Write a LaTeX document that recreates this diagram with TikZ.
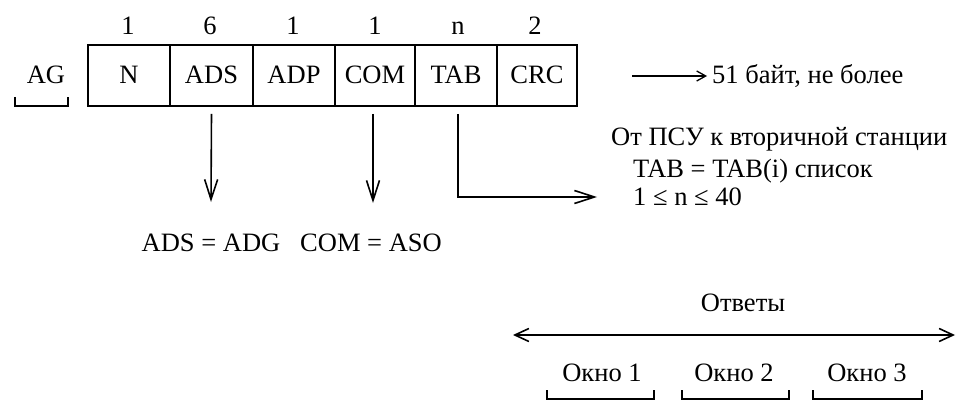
\documentclass[tikz,border=0pt]{standalone}
\usepackage{fontspec}
\setmainfont{Liberation Serif}
\usetikzlibrary{arrows.meta}
\begin{document}
\begin{tikzpicture}[x=1pt,y=-1pt,
  every node/.style={font=\fontsize{26.5}{30}\selectfont, inner sep=0pt},
  cell/.style={draw, line width=1.6pt, minimum height=61pt, text height=17pt, text depth=0pt, anchor=center},
  num/.style={anchor=base},
  conn/.style={line width=1.6pt},
  arrbig/.style={conn, -{Straight Barb[length=20pt,width=13pt,line width=1.6pt]}},
  arrsmall/.style={conn, -{Straight Barb[length=9pt,width=10pt,line width=1.3pt]}},
  arrdbl/.style={conn, {Straight Barb[length=14pt,width=13pt,line width=1.6pt]}-{Straight Barb[length=14pt,width=13pt,line width=1.6pt]}},
  brk/.style={line width=1.5pt}]
\useasboundingbox (0,0) rectangle (956,401);
% cells
\node[cell, minimum width=82pt] (N)   at (129,75.5) {N};
\node[cell, minimum width=83pt] (ADS) at (211.5,75.5) {ADS};
\node[cell, minimum width=82pt] (ADP) at (294,75.5) {ADP};
\node[cell, minimum width=80pt] (COM) at (375,75.5) {COM};
\node[cell, minimum width=82pt] (TAB) at (456,75.5) {TAB};
\node[cell, minimum width=80pt] (CRC) at (537,75.5) {CRC};
% sizes above
\node[num] (s1) at (128,35) {1};
\node[num] (s2) at (210,35) {6};
\node[num] (s3) at (293,35) {1};
\node[num] (s4) at (375,35) {1};
\node[num] (s5) at (458,35) {n};
\node[num] (s6) at (535,35) {2};
% AG
\node[anchor=base] (AG) at (46,84) {AG};
\coordinate (ag1) at (15,97);
\coordinate (ag2) at (68,97);
\draw[brk] (ag1) -- ++(0,9) -| (ag2);
% equations
\node[anchor=base] (eq1) at (211,251) {ADS = ADG};
\node[anchor=base] (eq2) at (371,251) {COM = ASO};
\coordinate (e1) at (211,202);
\coordinate (e2) at (373,203);
\draw[arrbig] ([yshift=-7pt]ADS.south) -- (e1);
\draw[arrbig] ([xshift=-2pt,yshift=-7pt]COM.south) -- (e2);
% TAB arrow
\coordinate (tabend) at (597,197);
\draw[arrbig] ([xshift=2pt,yshift=-7pt]TAB.south) |- (tabend);
% 51 bytes
\node[anchor=base west] (t51) at (712,84) {51 байт, не более};
\coordinate (a51) at (632,76);
\draw[arrsmall] (a51) -- (707,76);
% right texts
\node[anchor=base west] (from) at (611,146) {От ПСУ к вторичной станции};
\node[anchor=base west] (tabl) at (633,178) {TAB = TAB(i) список};
\node[anchor=base west] (nrng) at (633,205) {1 ≤ n ≤ 40};
% responses
\node[anchor=base] (otv) at (743,311) {Ответы};
\coordinate (d1) at (513,335);
\coordinate (d2) at (955,335);
\draw[arrdbl] (d1) -- (d2);
\node[anchor=base] (w1) at (602,381) {Окно 1};
\node[anchor=base] (w2) at (734,381) {Окно 2};
\node[anchor=base] (w3) at (867,381) {Окно 3};
\draw[brk] (547,390) -- (547,399) -- (654,399) -- (654,390);
\draw[brk] (682,390) -- (682,399) -- (789,399) -- (789,390);
\draw[brk] (813,390) -- (813,399) -- (922,399) -- (922,390);
\end{tikzpicture}
\end{document}
